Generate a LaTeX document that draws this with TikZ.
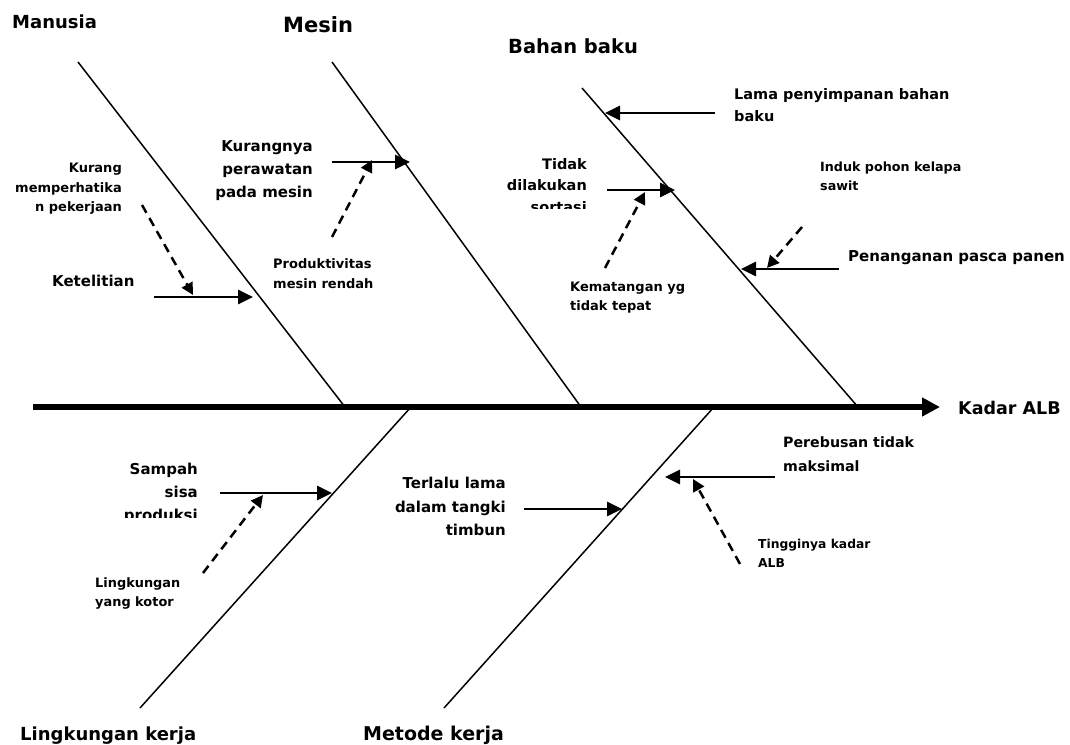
\documentclass[tikz,border=0pt]{standalone}
\usepackage{fontspec}
\setmainfont{DejaVu Sans}
\usetikzlibrary{arrows.meta}
\begin{document}
\begin{tikzpicture}[x=1pt,y=-1pt,
  bone/.style={line width=1.5pt},
  spine/.style={line width=6.5pt,-{Triangle[length=18pt,width=18pt]}},
  sub/.style={line width=2.9pt,-{Triangle[length=15pt,width=14pt]}},
  subsub/.style={line width=2.5pt,dash pattern=on 9pt off 6pt,-{Triangle[length=12pt,width=12pt]}},
  txt/.style 2 args={font=\bfseries\fontsize{#1}{#2}\selectfont,inner sep=0pt},
]
\useasboundingbox (0,0) rectangle (1070,744);

% spine
\coordinate (spL) at (33,407);
\coordinate (spR) at (940,407);
\draw[spine] (spL) -- (spR);
\node[txt={17.5}{21},anchor=base west] (effect) at (958,414) {Kadar ALB};

% bones
\coordinate (manT) at (78,62);   \coordinate (manB) at (345,407);
\coordinate (mesT) at (332,62);  \coordinate (mesB) at (581,407);
\coordinate (bahT) at (582,88);  \coordinate (bahB) at (858,407);
\coordinate (linB) at (140,708); \coordinate (linT) at (411,407);
\coordinate (metB) at (444,708); \coordinate (metT) at (714,407);
\draw[bone] (manT) -- (manB);
\draw[bone] (mesT) -- (mesB);
\draw[bone] (bahT) -- (bahB);
\draw[bone] (linB) -- (linT);
\draw[bone] (metB) -- (metT);

% category labels
\node[txt={18}{22},anchor=base west] (lman) at (12,28) {Manusia};
\node[txt={21}{25},anchor=base west] (lmes) at (283,32) {Mesin};
\node[txt={19.5}{23},anchor=base west] (lbah) at (508,53) {Bahan baku};
\node[txt={18}{22},anchor=base west] (llin) at (20,740) {Lingkungan kerja};
\node[txt={19}{23},anchor=base west] (lmet) at (363,740) {Metode kerja};

% Manusia
\node[txt={15}{18},anchor=base west] (ketelitian) at (52,286) {Ketelitian};
\node[txt={13}{19.5},anchor=north east,align=right] (kurang) at (122,163) {Kurang\\memperhatika\\n pekerjaan};
\coordinate (a1s) at (154,297); \coordinate (a1e) at (253,297);
\draw[sub] (a1s) -- (a1e);
\coordinate (d1s) at (142,205); \coordinate (d1e) at (193,295);
\draw[subsub] (d1s) -- (d1e);

% Mesin
\node[txt={15}{23},anchor=north east,align=right] (kurangnya) at (313,140) {Kurangnya\\perawatan\\pada mesin};
\node[txt={13}{20},anchor=north west,align=left] (produktivitas) at (273,258) {Produktivitas\\mesin rendah};
\coordinate (a2s) at (332,162); \coordinate (a2e) at (410,162);
\draw[sub] (a2s) -- (a2e);
\coordinate (d2s) at (332,237); \coordinate (d2e) at (372,160);
\draw[subsub] (d2s) -- (d2e);

% Bahan baku
\node[txt={14.5}{22},anchor=north west,align=left] (lama) at (734,88) {Lama penyimpanan bahan\\baku};
\begin{scope}
  \clip (470,150) rectangle (600,208);
  \node[txt={14.5}{21.5},anchor=north east,align=right] (tidak) at (587,158) {Tidak\\dilakukan\\sortasi};
\end{scope}
\node[txt={12.7}{18.5},anchor=north west,align=left] (induk) at (820,162) {Induk pohon kelapa\\sawit};
\node[txt={13}{19.3},anchor=north west,align=left] (kematangan) at (570,282) {Kematangan yg\\tidak tepat};
\node[txt={15}{18},anchor=north west] (penanganan) at (848,250) {Penanganan pasca panen};
\coordinate (a3s) at (715,113); \coordinate (a3e) at (605,113);
\draw[sub] (a3s) -- (a3e);
\coordinate (a4s) at (607,190); \coordinate (a4e) at (675,190);
\draw[sub] (a4s) -- (a4e);
\coordinate (a5s) at (839,269); \coordinate (a5e) at (741,269);
\draw[sub] (a5s) -- (a5e);
\coordinate (d3s) at (605,268); \coordinate (d3e) at (645,192);
\draw[subsub] (d3s) -- (d3e);
\coordinate (d4s) at (802,227); \coordinate (d4e) at (767,268);
\draw[subsub] (d4s) -- (d4e);

% Lingkungan kerja
\begin{scope}
  \clip (90,455) rectangle (205,517);
  \node[txt={15}{22.7},anchor=north east,align=right] (sampah) at (198,463) {Sampah\\sisa\\produksi};
\end{scope}
\node[txt={12.9}{19.3},anchor=north west,align=left] (kotor) at (95,577) {Lingkungan\\yang kotor};
\coordinate (a6s) at (220,493); \coordinate (a6e) at (332,493);
\draw[sub] (a6s) -- (a6e);
\coordinate (d5s) at (203,573); \coordinate (d5e) at (263,495);
\draw[subsub] (d5s) -- (d5e);

% Metode kerja
\node[txt={15}{23.5},anchor=north east,align=right] (terlalu) at (506,477) {Terlalu lama\\dalam tangki\\timbun};
\node[txt={14.2}{24},anchor=north west,align=left] (perebusan) at (783,437) {Perebusan tidak\\maksimal};
\node[txt={12.3}{18.5},anchor=north west,align=left] (tingginya) at (758,539) {Tingginya kadar\\ALB};
\coordinate (a7s) at (524,509); \coordinate (a7e) at (622,509);
\draw[sub] (a7s) -- (a7e);
\coordinate (a8s) at (775,477); \coordinate (a8e) at (665,477);
\draw[sub] (a8s) -- (a8e);
\coordinate (d6s) at (740,564); \coordinate (d6e) at (693,479);
\draw[subsub] (d6s) -- (d6e);
\end{tikzpicture}
\end{document}
